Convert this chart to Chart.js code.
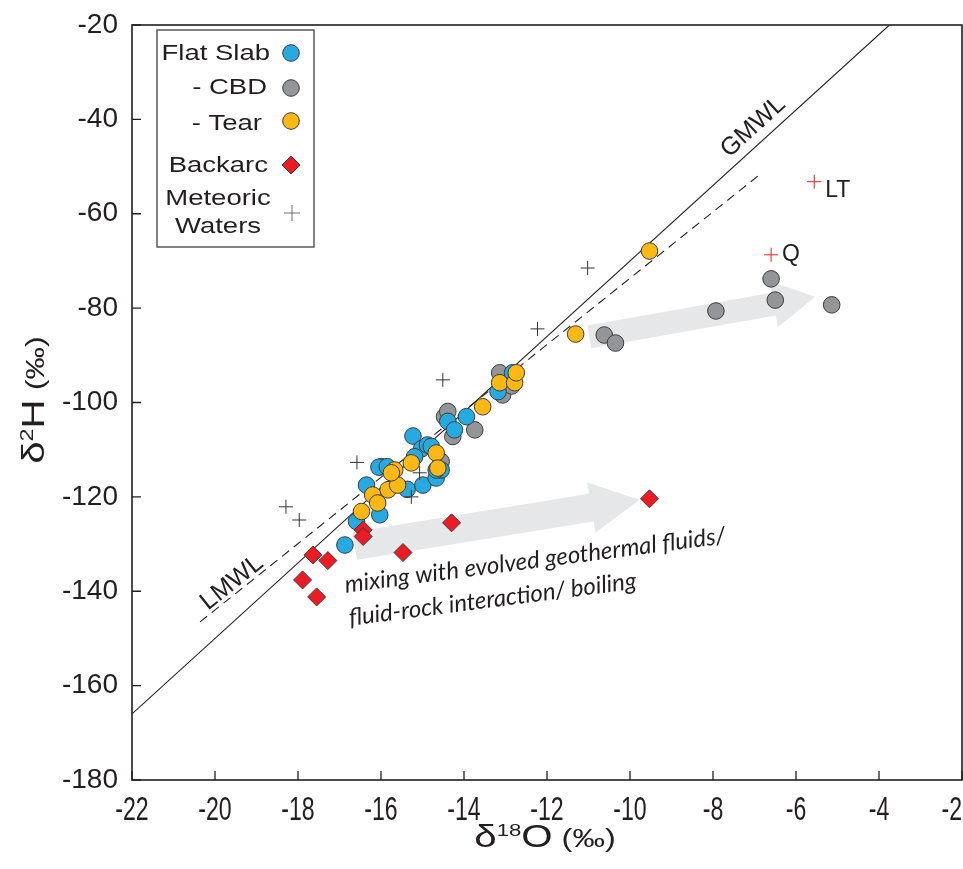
<!DOCTYPE html>
<html>
<head>
<meta charset="utf-8">
<script src="https://cdn.jsdelivr.net/npm/chart.js@4.4.1/dist/chart.umd.min.js"></script>
<style>
  html, body { margin: 0; padding: 0; background: #fff; overflow: hidden; }
  #wrap { width: 963px; height: 869px; }
  canvas { display: block; }
</style>
</head>
<body>
<div id="wrap"><canvas id="chart" width="963" height="869"></canvas></div>
<script>
// --- data (δ18O, δ2H in ‰) ---
const flatSlabX = [-15.23, -15.99, -16.05, -15.85, -16.35, -15.37, -14.99, -14.67, -15.02, -14.88, -15.19, -16.03, -16.59, -16.87, -14.55, -14.39, -14.23, -13.94, -13.18, -14.79, -12.83, -14.67];
const flatSlabY = [-107.1, -113.6, -113.7, -113.6, -117.5, -118.4, -117.5, -116.0, -109.8, -109.0, -111.5, -123.8, -125.2, -130.2, -114.3, -104.0, -105.8, -103.0, -97.7, -109.3, -93.7, -114.3];

const cbdX = [-14.47, -14.39, -13.74, -14.27, -13.14, -13.07, -14.55, -10.62, -10.35, -7.93, -6.60, -6.50, -5.14, -12.85];
const cbdY = [-103.0, -101.9, -105.8, -107.2, -93.7, -98.4, -112.5, -85.7, -87.4, -80.6, -73.8, -78.3, -79.3, -96.5];

const tearX = [-13.55, -13.14, -12.78, -12.74, -14.67, -14.63, -15.27, -15.67, -15.83, -15.60, -16.20, -16.08, -16.47, -15.75, -11.31, -9.53];
const tearY = [-100.9, -95.8, -95.8, -93.7, -110.7, -113.9, -112.8, -114.3, -118.5, -117.5, -119.6, -121.3, -123.1, -114.9, -85.5, -67.9];

const backarcX = [-16.43, -16.43, -17.64, -17.28, -17.89, -17.55, -15.47, -14.30, -9.53];
const backarcY = [-127.0, -128.4, -132.3, -133.5, -137.6, -141.2, -131.8, -125.5, -120.4];

const meteoricX = [-18.29, -17.97, -16.58, -14.51, -12.23, -11.02, -15.07, -15.27];
const meteoricY = [-122.1, -124.9, -112.7, -95.2, -84.4, -71.5, -114.9, -120.0];

const refWaterX = [-6.60, -5.56];
const refWaterY = [-68.7, -53.2];
const refWaterLabels = ['Q', 'LT'];

// meteoric water lines (end points)
const gmwlX = [-22, -3.75];
const gmwlY = [-166, -20];
const lmwlX = [-20.36, -6.89];
const lmwlY = [-146.5, -51.8];

// grey trend arrows: [tailX, tailY, tipX, tipY]
const arrowCbd = [-10.98, -86.1, -5.54, -77.6];
const arrowBackarc = [-16.63, -130.4, -9.77, -120.6];

const xTicks = [-22, -20, -18, -16, -14, -12, -10, -8, -6, -4, -2];
const yTicks = [-20, -40, -60, -80, -100, -120, -140, -160, -180];

const colors = Object.freeze({
  INK: '#231f20',
  BLUE: '#27aae1',
  GREY: '#939598',
  YELLOW: '#fdb813',
  RED: '#ed1c24',
  ARROW: '#e6e7e8',
});

const SANS = "'Liberation Sans', Arial, sans-serif";

function toPoints(xs, ys) {
  return xs.map((x, i) => ({ x: x, y: ys[i] }));
}

function circleSet(label, xs, ys, fill, order) {
  return {
    label: label,
    data: toPoints(xs, ys),
    pointStyle: 'circle',
    pointRadius: 8.3,
    backgroundColor: fill,
    borderColor: '#3c3c3c',
    borderWidth: 1,
    order: order,
  };
}

const datasets = [
  {
    label: 'Meteoric Waters',
    data: toPoints(meteoricX, meteoricY),
    pointStyle: 'cross',
    pointRadius: 7,
    borderColor: '#333333',
    borderWidth: 1,
    order: 0,
  },
  {
    label: 'Reference waters',
    data: toPoints(refWaterX, refWaterY),
    pointStyle: 'cross',
    pointRadius: 7,
    borderColor: colors.RED,
    borderWidth: 1,
    order: 0,
  },
  {
    label: 'Backarc',
    data: toPoints(backarcX, backarcY),
    pointStyle: 'rectRot',
    pointRadius: 9,
    backgroundColor: colors.RED,
    borderColor: '#3c3c3c',
    borderWidth: 1,
    order: 1,
  },
  circleSet('- Tear', tearX, tearY, colors.YELLOW, 2),
  circleSet('Flat Slab', flatSlabX, flatSlabY, colors.BLUE, 3),
  circleSet('- CBD', cbdX, cbdY, colors.GREY, 4),
  {
    label: 'GMWL',
    data: toPoints(gmwlX, gmwlY),
    showLine: true,
    pointRadius: 0,
    borderColor: colors.INK,
    borderWidth: 1.1,
    order: 5,
  },
  {
    label: 'LMWL',
    data: toPoints(lmwlX, lmwlY),
    showLine: true,
    pointRadius: 0,
    borderColor: colors.INK,
    borderWidth: 1.1,
    borderDash: [9, 6],
    order: 6,
  },
];

function drawArrow(ctx, chart, a, halfShaft, halfHead, headLen) {
  const xs = chart.scales.x, ys = chart.scales.y;
  const tx = xs.getPixelForValue(a[0]), ty = ys.getPixelForValue(a[1]);
  const px = xs.getPixelForValue(a[2]), py = ys.getPixelForValue(a[3]);
  const len = Math.hypot(px - tx, py - ty);
  const ux = (px - tx) / len, uy = (py - ty) / len;
  const nx = -uy, ny = ux;
  const bx = px - ux * headLen, by = py - uy * headLen;
  ctx.save();
  ctx.fillStyle = colors.ARROW;
  ctx.beginPath();
  ctx.moveTo(tx + nx * halfShaft, ty + ny * halfShaft);
  ctx.lineTo(bx + nx * halfShaft, by + ny * halfShaft);
  ctx.lineTo(bx + nx * halfHead, by + ny * halfHead);
  ctx.lineTo(px, py);
  ctx.lineTo(bx - nx * halfHead, by - ny * halfHead);
  ctx.lineTo(bx - nx * halfShaft, by - ny * halfShaft);
  ctx.lineTo(tx - nx * halfShaft, ty - ny * halfShaft);
  ctx.closePath();
  ctx.fill();
  ctx.restore();
}

function stretchedText(ctx, text, x, y, align, sx) {
  ctx.save();
  ctx.translate(x, y);
  ctx.scale(sx, 1);
  ctx.textAlign = align;
  ctx.fillText(text, 0, 0);
  ctx.restore();
}

// rotated label sitting along a line given in data units
function lineLabel(ctx, chart, text, lx, ly, lineX, lineY, font) {
  const xs = chart.scales.x, ys = chart.scales.y;
  const ang = Math.atan2(ys.getPixelForValue(lineY[1]) - ys.getPixelForValue(lineY[0]),
                         xs.getPixelForValue(lineX[1]) - xs.getPixelForValue(lineX[0]));
  ctx.save();
  ctx.translate(xs.getPixelForValue(lx), ys.getPixelForValue(ly));
  ctx.rotate(ang);
  ctx.font = font;
  ctx.textAlign = 'center';
  ctx.textBaseline = 'middle';
  ctx.fillText(text, 0, 0);
  ctx.restore();
}

// pieces: [text, fontSize, rise]; whole title stretched along its direction
function drawTitle(ctx, pieces, cx, cy, rotation, stretch) {
  let total = 0;
  pieces.forEach(p => {
    ctx.font = p[1] + 'px ' + SANS;
    total += ctx.measureText(p[0]).width;
  });
  ctx.save();
  ctx.translate(cx, cy);
  ctx.rotate(rotation);
  ctx.scale(stretch, 1);
  ctx.fillStyle = colors.INK;
  ctx.textBaseline = 'alphabetic';
  ctx.textAlign = 'left';
  let x = -total / 2;
  pieces.forEach(p => {
    ctx.font = p[1] + 'px ' + SANS;
    ctx.fillText(p[0], x, -p[2]);
    x += ctx.measureText(p[0]).width;
  });
  ctx.restore();
}

const overlayPlugin = {
  id: 'overlay',
  beforeDatasetsDraw(chart) {
    const ctx = chart.ctx;
    drawArrow(ctx, chart, arrowCbd, 11.5, 23.5, 42);
    drawArrow(ctx, chart, arrowBackarc, 14, 25.5, 49);
  },
  afterDraw(chart) {
    const ctx = chart.ctx;
    const area = chart.chartArea;
    const xs = chart.scales.x, ys = chart.scales.y;

    // plot frame and inward ticks
    ctx.save();
    ctx.strokeStyle = colors.INK;
    ctx.lineWidth = 1.6;
    ctx.strokeRect(area.left, area.top, area.right - area.left, area.bottom - area.top);
    ctx.lineWidth = 1.3;
    ctx.beginPath();
    xTicks.forEach(v => {
      const px = xs.getPixelForValue(v);
      ctx.moveTo(px, area.bottom);
      ctx.lineTo(px, area.bottom - 9);
    });
    yTicks.forEach(v => {
      const py = ys.getPixelForValue(v);
      ctx.moveTo(area.left, py);
      ctx.lineTo(area.left + 9, py);
    });
    ctx.stroke();

    // x tick labels (condensed, as in the figure)
    ctx.fillStyle = colors.INK;
    ctx.font = '34px ' + SANS;
    ctx.textBaseline = 'alphabetic';
    xTicks.forEach(v => {
      const half = ctx.measureText(String(v)).width * 0.68 / 2;
      const px = Math.min(xs.getPixelForValue(v), chart.width - half - 1);
      stretchedText(ctx, String(v), px, area.bottom + 40, 'center', 0.68);
    });
    ctx.restore();

    // line labels
    ctx.fillStyle = colors.INK;
    lineLabel(ctx, chart, 'GMWL', -7.03, -41.6, gmwlX, gmwlY, '25px ' + SANS);
    lineLabel(ctx, chart, 'LMWL', -19.59, -138.2, lmwlX, lmwlY, '25px ' + SANS);

    // reference water labels
    ctx.save();
    ctx.font = '23px ' + SANS;
    ctx.textBaseline = 'middle';
    ctx.textAlign = 'left';
    refWaterLabels.forEach((t, i) => {
      ctx.fillText(t, xs.getPixelForValue(refWaterX[i]) + 11, ys.getPixelForValue(refWaterY[i]) + (i === 1 ? 9 : 0));
    });
    ctx.restore();

    // mixing annotation
    ctx.save();
    ctx.fillStyle = colors.INK;
    ctx.font = "italic 24px Lato, 'Open Sans', sans-serif";
    const mix = [
      ['mixing with evolved geothermal fluids/', -16.85, -140.3],
      ['fluid-rock interaction/ boiling', -16.75, -147.3],
    ];
    mix.forEach(m => {
      ctx.save();
      ctx.translate(xs.getPixelForValue(m[1]), ys.getPixelForValue(m[2]));
      ctx.rotate(-7.4 * Math.PI / 180);
      ctx.textAlign = 'left';
      ctx.fillText(m[0], 0, 0);
      ctx.restore();
    });
    ctx.restore();

    // legend box
    const lx = area.left + 25, ly = area.top + 5;
    ctx.save();
    ctx.fillStyle = '#ffffff';
    ctx.fillRect(lx, ly, 157, 217);
    ctx.strokeStyle = '#58595b';
    ctx.lineWidth = 1.5;
    ctx.strokeRect(lx, ly, 157, 217);
    ctx.fillStyle = colors.INK;
    ctx.font = '22px ' + SANS;
    ctx.textBaseline = 'alphabetic';
    const entries = [
      ['Flat Slab', 113, 30, 23],
      ['- CBD', 110, 64, 58],
      ['- Tear', 105, 100, 91],
      ['Backarc', 111, 142, 135],
    ];
    entries.forEach(e => {
      stretchedText(ctx, e[0], lx + e[1], ly + e[2], 'right', 1.25);
      const ds = datasets.find(d => d.label === e[0]);
      ctx.fillStyle = ds.backgroundColor;
      ctx.strokeStyle = ds.borderColor;
      ctx.lineWidth = 1;
      Chart.helpers.drawPoint(ctx, { pointStyle: ds.pointStyle, radius: ds.pointRadius, rotation: 0, borderWidth: 1 }, lx + 134, ly + e[3]);
      ctx.fillStyle = colors.INK;
    });
    stretchedText(ctx, 'Meteoric', lx + 61, ly + 175, 'center', 1.25);
    stretchedText(ctx, 'Waters', lx + 61, ly + 203, 'center', 1.25);
    ctx.strokeStyle = '#6d6e71';
    ctx.lineWidth = 1;
    Chart.helpers.drawPoint(ctx, { pointStyle: 'cross', radius: 8, rotation: 0, borderWidth: 1 }, lx + 135, ly + 183);
    ctx.restore();

    // axis titles
    drawTitle(ctx, [['\u03b4', 31, 0], ['18', 17, 11], ['O', 31, 0], [' (\u2030)', 25, 0]],
      545, area.bottom + 67, 0, 1.3);
    drawTitle(ctx, [['\u03b4', 31, 0], ['2', 18, 11], ['H', 31, 0], [' (\u2030)', 25, 0]],
      44, 400, -Math.PI / 2, 1.3);
  },
};

new Chart(document.getElementById('chart'), {
  type: 'scatter',
  data: { datasets: datasets },
  plugins: [overlayPlugin],
  options: {
    responsive: false,
    animation: false,
    layout: { autoPadding: false, padding: { top: 25, right: 1, left: 0, bottom: 0 } },
    plugins: {
      legend: { display: false },
      tooltip: { enabled: false },
    },
    scales: {
      x: {
        type: 'linear',
        min: -22,
        max: -2,
        grid: { display: false, drawTicks: false },
        border: { display: false },
        ticks: { display: false, stepSize: 2 },
        afterFit(scale) {
          scale.height = 89;
          scale.paddingLeft = 0;
          scale.paddingRight = 0;
        },
      },
      y: {
        type: 'linear',
        min: -180,
        max: -20,
        grid: { display: false, drawTicks: false },
        border: { display: false },
        ticks: {
          stepSize: 20,
          padding: 14,
          color: colors.INK,
          font: { family: SANS, size: 28 },
        },
        afterFit(scale) {
          scale.width = 132;
          scale.paddingTop = 0;
          scale.paddingBottom = 0;
        },
      },
    },
  },
});
</script>
</body>
</html>
